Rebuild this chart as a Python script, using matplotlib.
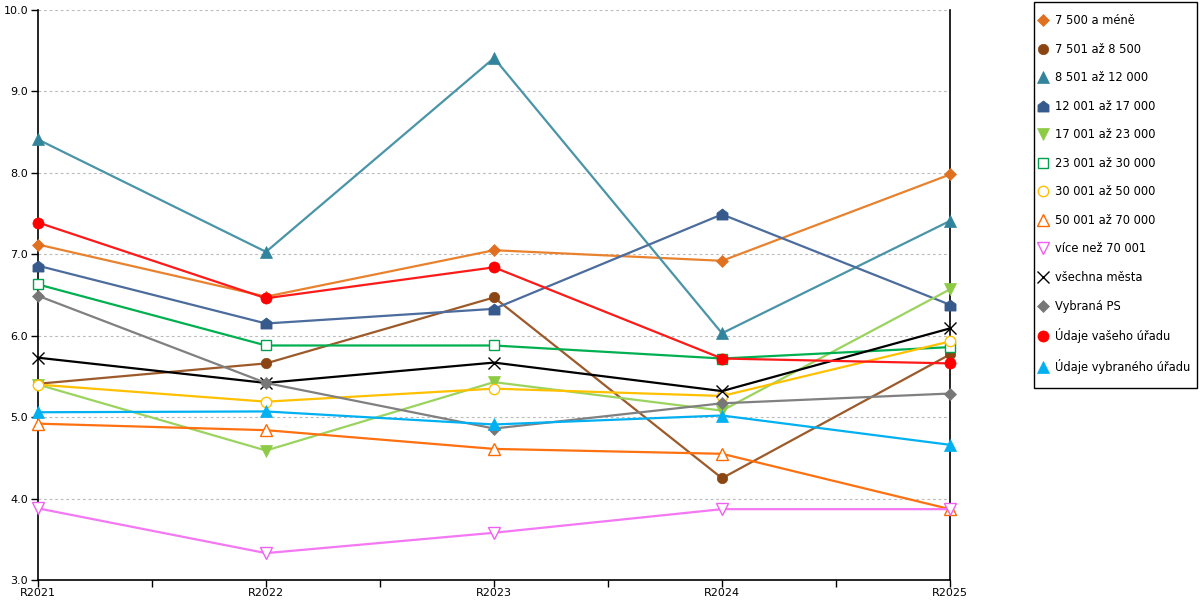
import matplotlib
matplotlib.use("Agg")
import matplotlib.pyplot as plt
from matplotlib.lines import Line2D
from matplotlib.patches import Rectangle
from matplotlib.ticker import MultipleLocator, FixedLocator, FormatStrFormatter

years = ["R2021", "R2022", "R2023", "R2024", "R2025"]

s_7500 = [7.12, 6.48, 7.05, 6.92, 7.98]
s_8500 = [5.41, 5.66, 6.47, 4.25, 5.77]
s_12000 = [8.41, 7.03, 9.41, 6.03, 7.41]
s_17000 = [6.86, 6.15, 6.33, 7.49, 6.38]
s_23000 = [5.40, 4.59, 5.43, 5.08, 6.57]
s_30000 = [6.63, 5.88, 5.88, 5.72, 5.86]
s_50000 = [5.40, 5.19, 5.35, 5.26, 5.93]
s_70000 = [4.92, 4.84, 4.61, 4.55, 3.87]
s_over = [3.88, 3.33, 3.58, 3.87, 3.87]
s_all = [5.73, 5.42, 5.67, 5.32, 6.09]
s_ps = [6.49, 5.42, 4.86, 5.17, 5.29]
s_yours = [7.39, 6.46, 6.84, 5.72, 5.66]
s_sel = [5.06, 5.07, 4.91, 5.02, 4.66]

labels = ["7 500 a méně", "7 501 až 8 500", "8 501 až 12 000", "12 001 až 17 000",
          "17 001 až 23 000", "23 001 až 30 000", "30 001 až 50 000", "50 001 až 70 000",
          "více než 70 001", "všechna města", "Vybraná PS", "Údaje vašeho úřadu",
          "Údaje vybraného úřadu"]
series = [s_7500, s_8500, s_12000, s_17000, s_23000, s_30000, s_50000, s_70000,
          s_over, s_all, s_ps, s_yours, s_sel]

house = [(-1, -1), (1, -1), (1, 0.25), (0, 1), (-1, 0.25), (-1, -1)]

# (line color, marker color, marker, size, filled)
styles = [
    ("#E8822F", "#E07020", "D", 6, True),
    ("#9C5A2A", "#8B4513", "o", 7.5, True),
    ("#4A94A8", "#31849B", "^", 8, True),
    ("#4B6C9C", "#375A8C", house, 8, True),
    ("#9BD35F", "#8DCB45", "v", 8, True),
    ("#00B050", "#00A050", "s", 7.5, False),
    ("#FFC000", "#FFC000", "o", 7.5, False),
    ("#FF7010", "#FF6A00", "^", 8.5, False),
    ("#F477F4", "#F060F0", "v", 8.5, False),
    ("#000000", "#000000", "x", 8.5, False),
    ("#808080", "#777777", "D", 6, True),
    ("#FF1A1A", "#FF0000", "o", 8, True),
    ("#00B0F0", "#00B0F0", "^", 8, True),
]

plt.rcParams['font.family'] = ['DejaVu Sans']

W, H = 1200, 600
fig = plt.figure(figsize=(12, 6), dpi=100)
ax = fig.add_axes([38/W, 20/H, (950-38)/W, (580-10)/H])

x = list(range(len(years)))
handles = []
for lab, ys, (lc, mc, mk, ms, filled) in zip(labels, series, styles):
    kw = dict(marker=mk, markersize=ms, markeredgecolor=mc,
              markerfacecolor=mc if filled else "white")
    if mk == "x":
        kw["markerfacecolor"] = mc
        kw["markeredgewidth"] = 1.0
    elif not filled:
        kw["markeredgewidth"] = 1.0
    else:
        kw["markeredgewidth"] = 0.5
    ax.plot(x, ys, color=lc, linewidth=1.6, clip_on=False, zorder=3, **kw)
    handles.append(Line2D([], [], linestyle="none", **kw))

ax.set_xlim(0, len(years) - 1)
ax.set_ylim(3.0, 10.0)
ax.set_xticks(x)
ax.set_xticklabels(years)
ax.xaxis.set_minor_locator(FixedLocator([i + 0.5 for i in range(len(years) - 1)]))
ax.yaxis.set_major_locator(MultipleLocator(1.0))
ax.yaxis.set_major_formatter(FormatStrFormatter("%.1f"))
ax.tick_params(axis="both", direction="out", length=5, width=1, labelsize=8, color="black", pad=2)
ax.tick_params(axis="x", which="minor", direction="out", length=5, width=1)
ax.tick_params(axis="x", pad=1)

for side in ["left", "right", "bottom"]:
    ax.spines[side].set_color("black")
    ax.spines[side].set_linewidth(1.2)
ax.spines["top"].set_visible(False)

ax.yaxis.grid(True, color="#BBBBBB", linestyle=(0, (2.5, 2.5)), linewidth=0.8)
ax.set_axisbelow(True)

# legend frame
fig.patches.append(Rectangle((1034/W, 1 - 388/H), (1197-1034)/W, (388-2)/H,
                             transform=fig.transFigure, fill=False,
                             edgecolor="black", linewidth=1.0))
leg = fig.legend(handles, labels, loc="upper left",
                 bbox_to_anchor=(1039/W, 1 - 14/H), bbox_transform=fig.transFigure,
                 fontsize=8.3, frameon=False,
                 handlelength=0.7, handletextpad=0.7, labelspacing=1.35,
                 borderpad=0, borderaxespad=0)

fig.savefig("out.png", dpi=100)
